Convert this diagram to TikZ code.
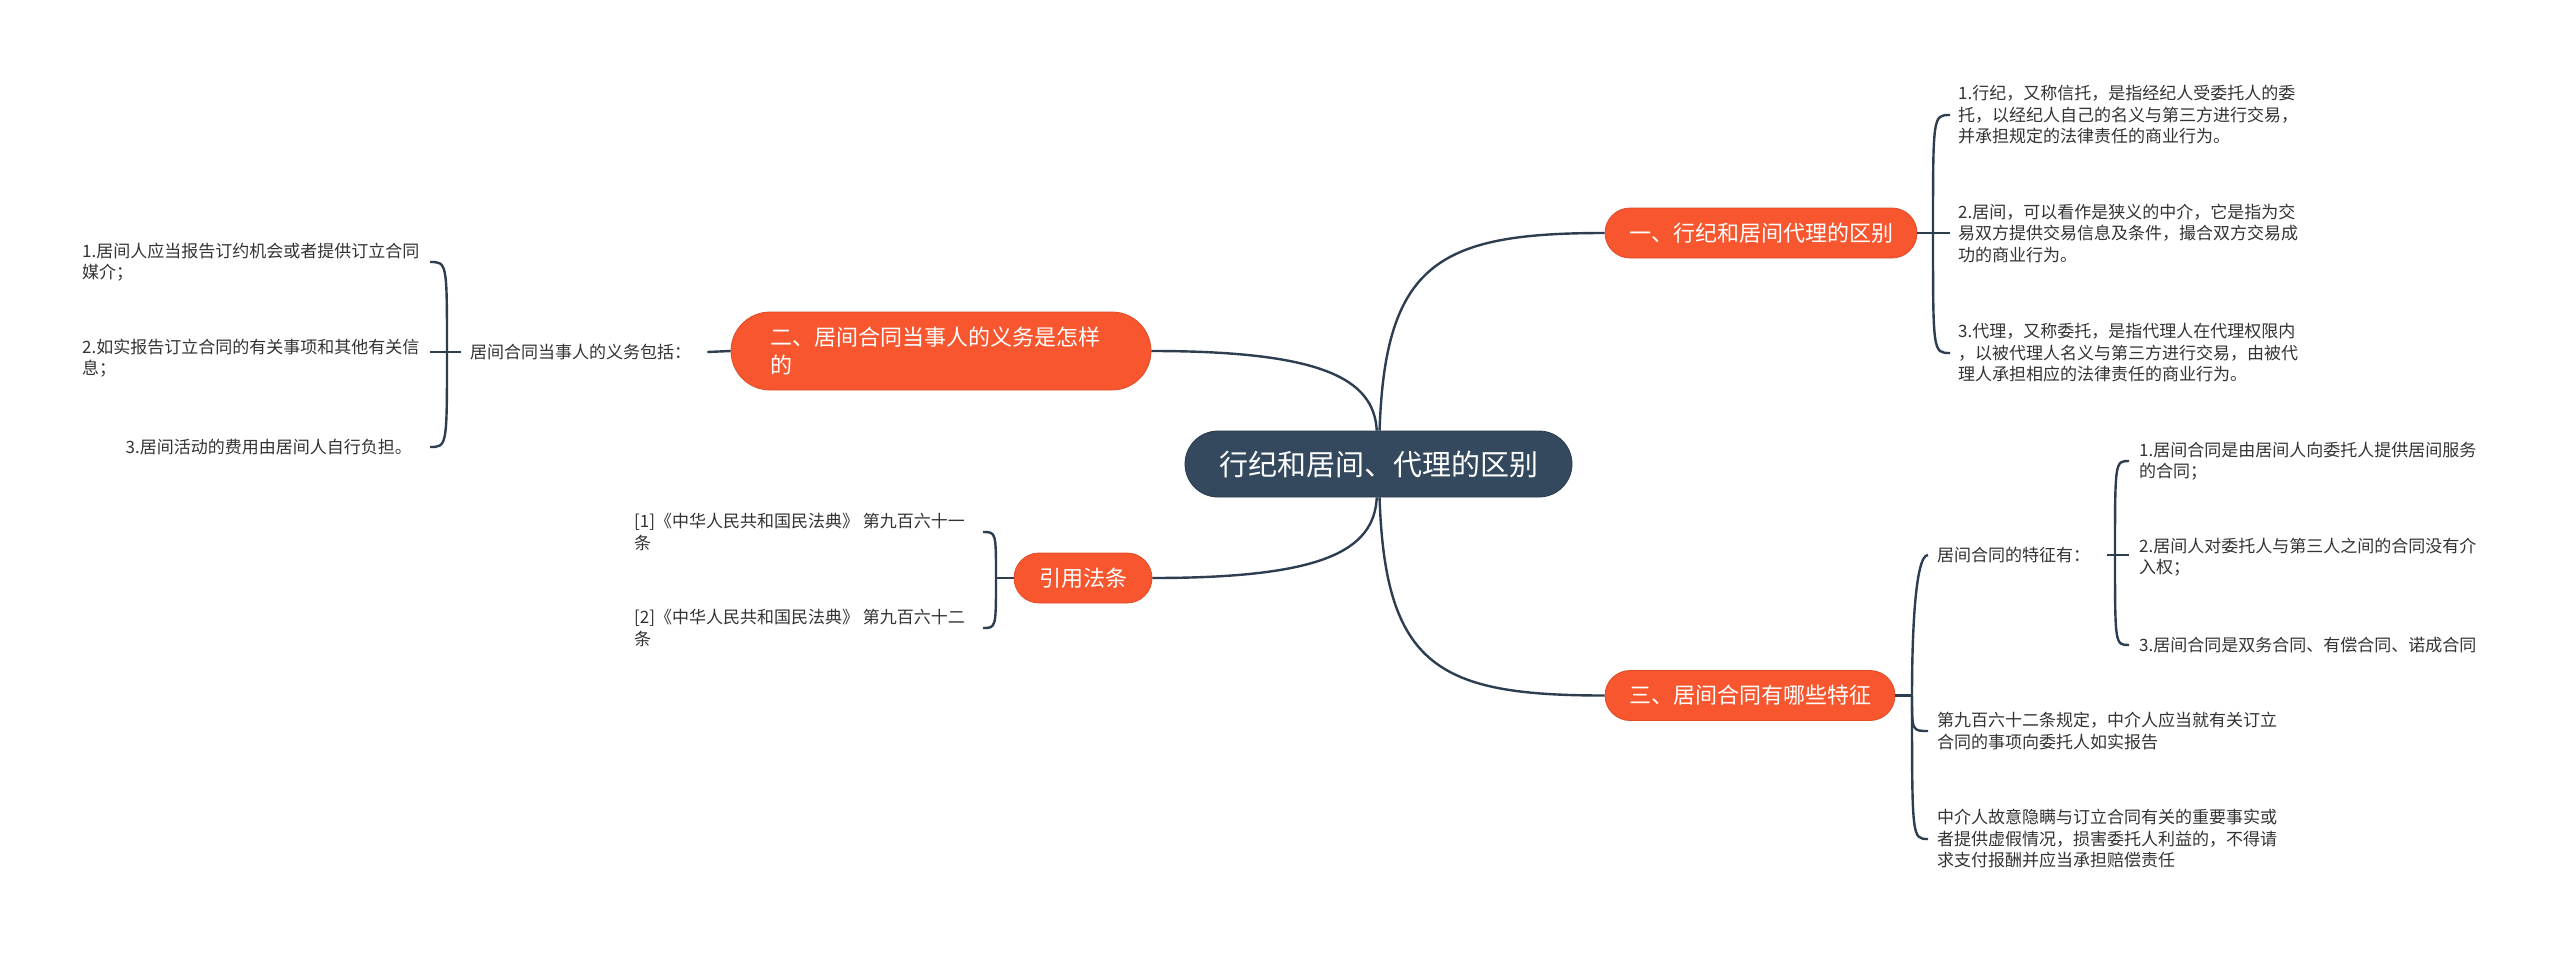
\documentclass[tikz,border=0pt]{standalone}
\usepackage{fontspec}
\setmainfont{Noto Sans CJK SC}
\definecolor{orng}{RGB}{247,86,46}
\definecolor{slate}{RGB}{52,73,94}
\definecolor{ln}{RGB}{44,62,80}
\definecolor{txt}{RGB}{51,51,51}
\begin{document}
\begin{tikzpicture}[x=1pt,y=-1pt,
  conn/.style={draw=ln, line width=2.4pt},
  central/.style={fill=slate, draw=slate!80!black, line width=0.8pt, text=white, rounded corners=33pt, minimum width=387pt, minimum height=66pt, inner sep=0pt, font=\fontsize{29}{35}\selectfont},
  topic/.style={fill=orng, draw=orng!90!black, line width=0.8pt, text=white, rounded corners=25pt, minimum height=50pt, inner sep=0pt, font=\fontsize{22}{28}\selectfont},
  leaf/.style={inner sep=0pt, align=left, text=txt, font=\fontsize{17}{21.5}\selectfont},
]
\fill[white] (0,0) rectangle (2560,953);
\useasboundingbox (0,0) rectangle (2560,953);

% main nodes
\node[central] (c) at (1378.5,464) {行纪和居间、代理的区别};
\node[topic, minimum width=312pt] (n1) at (1761,233) {一、行纪和居间代理的区别};
\node[topic, minimum width=290pt] (n3) at (1750,695.5) {三、居间合同有哪些特征};
\node[topic, minimum width=420pt, minimum height=78pt, rounded corners=39pt] (n2) at (941,351) {\parbox{342pt}{\raggedright 二、居间合同当事人的义务是怎样\\的}};
\node[topic, minimum width=138pt] (lw) at (1083,578) {引用法条};

% leaves of n1
\node[leaf, anchor=west] (b1) at (1958,115) {1.行纪，又称信托，是指经纪人受委托人的委\\托，以经纪人自己的名义与第三方进行交易，\\并承担规定的法律责任的商业行为。};
\node[leaf, anchor=west] (b2) at (1958,233) {2.居间，可以看作是狭义的中介，它是指为交\\易双方提供交易信息及条件，撮合双方交易成\\功的商业行为。};
\node[leaf, anchor=west] (b3) at (1958,353) {3.代理，又称委托，是指代理人在代理权限内\\，以被代理人名义与第三方进行交易，由被代\\理人承担相应的法律责任的商业行为。};

% leaves of n2
\node[leaf, anchor=west] (lab2) at (470,352) {居间合同当事人的义务包括：};
\node[leaf, anchor=west] (l1) at (82,262) {1.居间人应当报告订约机会或者提供订立合同\\媒介；};
\node[leaf, anchor=west] (l2) at (82,358) {2.如实报告订立合同的有关事项和其他有关信\\息；};
\node[leaf, anchor=east] (l3) at (412,447) {3.居间活动的费用由居间人自行负担。};

% leaves of lw
\node[leaf, anchor=west] (c1) at (634,532) {[1]《中华人民共和国民法典》 第九百六十一\\条};
\node[leaf, anchor=west] (c2) at (634,628) {[2]《中华人民共和国民法典》 第九百六十二\\条};

% leaves of n3
\node[leaf, anchor=west] (r1) at (1937,555) {居间合同的特征有：};
\node[leaf, anchor=west] (r2) at (1937,731) {第九百六十二条规定，中介人应当就有关订立\\合同的事项向委托人如实报告};
\node[leaf, anchor=west] (r3) at (1937,839) {中介人故意隐瞒与订立合同有关的重要事实或\\者提供虚假情况，损害委托人利益的，不得请\\求支付报酬并应当承担赔偿责任};
\node[leaf, anchor=west] (i1) at (2139,461) {1.居间合同是由居间人向委托人提供居间服务\\的合同；};
\node[leaf, anchor=west] (i2) at (2139,557) {2.居间人对委托人与第三人之间的合同没有介\\入权；};
\node[leaf, anchor=west] (i3) at (2139,645) {3.居间合同是双务合同、有偿合同、诺成合同};

% main curves
\draw[conn] (c) .. controls (1385,262) and (1440,233) .. (n1.west);
\draw[conn] (c) .. controls (1385,668) and (1440,695.5) .. (n3.west);
\draw[conn] (c) .. controls (1374,378) and (1320,351) .. (n2.east);
\draw[conn] (c) .. controls (1374,552) and (1320,578) .. (lw.east);

% bracket n1
\coordinate (j1) at (1933,233);
\coordinate (k1) at (1950,233);
\draw[conn] (n1.east) -- (k1);
\draw[conn] (j1) .. controls (j1 |- b1.west) and (j1 |- b1.west) .. (k1 |- b1.west);
\draw[conn] (j1) .. controls (j1 |- b3.west) and (j1 |- b3.west) .. (k1 |- b3.west);

% bracket n2
\draw[conn] (n2.west) -- ([xshift=16pt]lab2.east);
\coordinate (j2) at (447,352);
\coordinate (k2) at (430,352);
\draw[conn] ([xshift=-9pt]lab2.west) -- (k2);
\draw[conn] (j2) .. controls (j2 |- l1.east) and (j2 |- l1.east) .. (k2 |- l1.east);
\draw[conn] (j2) .. controls (j2 |- l3.east) and (j2 |- l3.east) .. (k2 |- l3.east);

% bracket lw
\coordinate (j3) at (996,578);
\coordinate (k3) at (983,578);
\draw[conn] (lw.west) -- (j3);
\draw[conn] (j3) .. controls (j3 |- c1.east) and (j3 |- c1.east) .. (k3 |- c1.east);
\draw[conn] (j3) .. controls (j3 |- c2.east) and (j3 |- c2.east) .. (k3 |- c2.east);

% bracket n3
\coordinate (j5) at (1912,695.5);
\coordinate (k5) at (1928,695.5);
\draw[conn] (n3.east) -- (j5);
\draw[conn] (j5) .. controls ([yshift=60pt]j5) and ([xshift=3pt]j5 |- r1.west) .. (k5 |- r1.west);
\draw[conn] (j5) .. controls (j5 |- r2.west) and (j5 |- r2.west) .. (k5 |- r2.west);
\draw[conn] (j5) .. controls (j5 |- r3.west) and (j5 |- r3.west) .. (k5 |- r3.west);

% bracket r1
\coordinate (j4) at (2115,555);
\coordinate (k4) at (2129,555);
\draw[conn] ([xshift=17pt]r1.east) -- (k4);
\draw[conn] (j4) .. controls (j4 |- i1.west) and (j4 |- i1.west) .. (k4 |- i1.west);
\draw[conn] (j4) .. controls (j4 |- i3.west) and (j4 |- i3.west) .. (k4 |- i3.west);
\end{tikzpicture}
\end{document}
